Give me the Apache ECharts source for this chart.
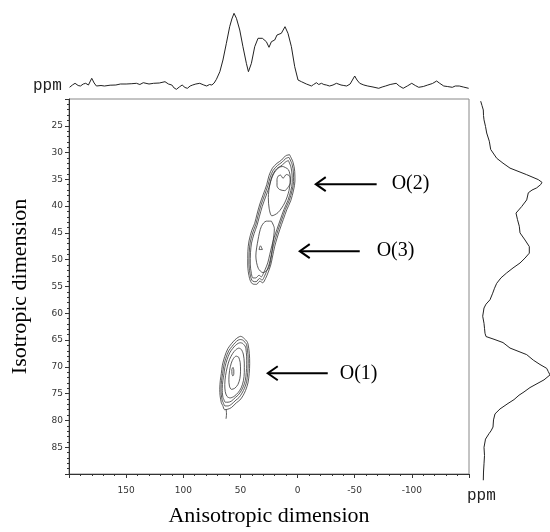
<!DOCTYPE html>
<html>
<head>
<meta charset="utf-8">
<title>MQMAS spectrum</title>
<script src="https://cdn.jsdelivr.net/npm/echarts@6/dist/echarts.min.js"></script>
<style>
  html, body { margin: 0; padding: 0; background: #fff; }
  #main { width: 550px; height: 532px; }
</style>
</head>
<body>
<div id="main"></div>
<script>
// top projection (anisotropic dimension), ppm and intensity
var topPpm = [199.5, 197, 194.7, 192, 190, 187.5, 185.4, 183, 180.1, 178, 176, 172, 169, 164, 159, 155, 150, 145, 141, 138,
  135, 130, 126, 121, 116, 113, 110, 108, 106, 103.5, 101, 98.5, 96.4, 94, 91.8, 89, 85.6, 82, 79.5, 77,
  75, 73, 71, 68, 65.3, 62.3, 59.4, 57.5, 55.6, 53.5, 50.6, 47.8, 44.8, 43, 40.4, 37.5, 34.6, 30.8, 27.3, 25,
  22.9, 20, 18, 14.2, 11, 8.4, 5.4, 2.5, -0.4, -3.4, -5, -7.7, -10, -12.1, -14, -16.5, -18.5, -20.9, -23, -25.2,
  -28, -31, -34, -38, -40.5, -43, -46, -48, -50, -52, -54.4, -58, -61.4, -66, -71, -74, -77, -81, -86.3, -89,
  -92.4, -96, -99.9, -103, -106, -110, -113.9, -118, -121.7, -124, -127.9, -131, -135.4, -138, -141.5, -145, -149.7];
var topInt = [2.7, 5, 6.7, 4.5, 4, 6, 6.7, 5, 11.7, 7, 4, 4.5, 4, 4.8, 5, 6, 6, 6.3, 6.7, 5.5,
  7.3, 6, 6.7, 7, 8.3, 6, 5, 2, 0.7, 3, 5, 2.5, 1.7, 4, 5, 6, 6.7, 5, 4, 5.5,
  5, 7, 10.7, 18.3, 30, 46.7, 63.3, 71, 76.7, 71.7, 60, 43.3, 26.7, 18.3, 26.7, 43.3, 51.7, 51.7, 48.3, 42.7,
  48.3, 50, 55, 56.7, 63.3, 56.7, 43.3, 23.3, 10, 8.3, 7, 6, 5, 4, 5.5, 7.3, 5.5, 6.7, 5.5, 5,
  4, 5, 6.7, 5, 4.5, 4, 6, 10, 14, 10, 6.7, 5, 4, 3, 1.7, 3, 4, 5.5, 6.7, 4,
  1.7, 4, 6.7, 4.5, 2.7, 3.5, 5, 6.5, 9, 7, 4, 3.5, 2.7, 4, 4, 3, 1.7];

// right projection (isotropic dimension), ppm and intensity
var rightPpm = [20.4, 21.2, 22, 23, 23.8, 25, 26.2, 27.7, 29.2, 30.8, 31.7, 32.6, 33.8, 34.7, 35.2, 35.6, 36.2, 36.6, 37.1, 38.4,
  39.6, 40.8, 41.1, 42, 43.2, 44.4, 45.7, 46.9, 48.1, 49, 49.9, 50.8, 51.7, 52.6, 53.6, 54.5, 55.4, 56.6, 57.4, 58.1,
  59.6, 60.9, 61.8, 62.7, 63.3, 63.8, 64.4, 65.4, 66.6, 67.6, 68.4, 69.1, 69.7, 70.3, 71.2, 72, 72.6, 73.4, 74, 74.8,
  75.5, 76.5, 77.4, 78.5, 79.8, 80.5, 81, 82, 83.5, 85, 86.5, 88, 89.5];
var rightInt = [8.7, 10, 11.3, 11.5, 12, 13.5, 14.7, 17.3, 18.7, 24.7, 31, 38, 54.7, 66.3, 70, 68.7, 64.7, 60, 56.3, 54.7,
  49.7, 44, 43, 45.5, 47.3, 48, 53, 57.3, 57.3, 53, 48, 41, 34.7, 29, 24.7, 22.5, 20.7, 18, 14, 12,
  10.7, 12, 12.5, 13, 14, 22, 31, 38, 54.7, 61.3, 68, 74.7, 76.3, 78, 72, 64, 58, 52, 47, 42,
  36, 28, 23, 21.5, 21, 19, 17, 13.5, 12, 12.5, 12, 11.5, 11.3];

// contour rings, [anisotropic ppm, isotropic ppm]
var o23Ring1 = [[7, 30.4], [4, 31.8], [2.5, 33.5], [2.3, 35.3], [3.5, 37], [6, 39], [9.5, 40.7], [12.5, 42.5], [15.6, 44.4], [18, 46],
  [20, 47.5], [22, 49.5], [23.5, 51], [26, 52.5], [28, 53.5], [30.5, 54.3], [33, 54], [36, 54.6], [39.5, 54.5], [42, 53.5],
  [43.6, 51], [43.5, 48.5], [42.5, 46.5], [40, 44.5], [37.5, 43.2], [35.5, 41.5], [33, 39.6], [30, 37.8], [27, 36], [25, 34.3],
  [22, 32.9], [18, 32], [14, 31.4], [10.5, 30.6], [7, 30.4]];
var o23Ring2 = [[7.5, 30.9], [4.8, 32.2], [3.6, 33.8], [3.5, 35.4], [4.7, 37], [7.2, 38.9], [10.7, 40.6], [13.7, 42.4], [16.8, 44.3], [19.2, 45.9],
  [21.2, 47.4], [23.2, 49.3], [24.8, 50.8], [27.2, 52.2], [29, 53.1], [31, 53.8], [33.3, 53.5], [36.3, 54.1], [39.3, 54], [41.2, 53.1],
  [42.5, 50.9], [42.3, 48.6], [41.4, 46.7], [39, 44.8], [36.5, 43.4], [34.5, 41.7], [32, 39.8], [29, 38], [26, 36.2], [24, 34.6],
  [21.3, 33.3], [17.5, 32.4], [13.6, 31.8], [10.3, 31.1], [7.5, 30.9]];
var o23Ring3 = [[8, 31.5], [5.8, 32.7], [4.8, 34.2], [4.7, 35.6], [5.9, 37.1], [8.4, 38.9], [11.9, 40.6], [14.9, 42.4], [18, 44.3], [20.4, 45.8],
  [22.4, 47.3], [24.4, 49.1], [26.1, 50.6], [28.3, 51.8], [30, 52.6], [31.7, 53.2], [33.7, 52.9], [36.6, 53.4], [39.1, 53.4], [40.4, 52.6],
  [41.4, 50.8], [41.2, 48.7], [40.3, 46.9], [38, 45.1], [35.5, 43.6], [33.5, 42], [31, 40.1], [28, 38.3], [25, 36.5], [23, 35],
  [20.5, 33.8], [17, 32.9], [13.3, 32.3], [10.2, 31.7], [8, 31.5]];
var o2Inner = [[12.7, 32.6], [8, 33.2], [6.3, 34.9], [7.5, 37.1], [11.3, 39.4], [17.1, 41.2], [22.5, 41.8], [24.8, 40.5], [25.6, 38.4],
  [24.2, 35.9], [21.5, 34], [17.1, 32.8], [12.7, 32.6]];
var o3Inner = [[22.9, 42.8], [20.3, 44.2], [21.6, 46.9], [23.2, 49.7], [25.7, 51.7], [30.3, 52.4], [34.4, 51.6], [36.5, 49.3],
  [34.6, 46.3], [31.7, 43.8], [27.3, 42.8], [22.9, 42.8]];
var o2Core = [[17.1, 34.4], [15, 34.2], [12.7, 34.8], [9.8, 34.1], [6.9, 34.4], [6.3, 35.6], [8.4, 36.5], [11.3, 37.1], [15.7, 36.9],
  [18, 36.2], [18, 35], [17.1, 34.4]];
var o3Core = [[33.7, 48.1], [32.5, 47.4], [30.8, 48.1], [33.7, 48.1]];
var o1Ring1 = [[47.8, 64.5], [44.5, 65.2], [43.4, 65.7], [42.2, 67.5], [41.9, 69.4], [42.3, 71.2], [43.4, 73], [45.5, 74.4], [47.8, 75.4],
  [50.5, 76.2], [53.5, 76.7], [57.9, 77.6], [61, 77.9], [63.8, 78], [65.5, 77.2], [66.7, 76.7], [67.8, 75.4], [68.1, 74.2],
  [67.6, 72.5], [66.7, 71.2], [65.8, 69.7], [63.8, 68.1], [61, 66.6], [57.9, 65.7], [55, 65], [52.1, 64.5], [49.8, 64.3], [47.8, 64.5]];
var o1Ring2 = [[48, 65], [45.2, 65.6], [44.4, 66.1], [43.4, 67.7], [43.2, 69.4], [43.6, 71.1], [44.6, 72.8], [46.5, 74], [48.6, 74.9],
  [51.1, 75.7], [53.9, 76.2], [58, 77], [61, 77.3], [63.5, 77.3], [65, 76.7], [66, 76.2], [66.8, 75.1], [67, 74.1],
  [66.5, 72.5], [65.6, 71.3], [64.7, 69.9], [62.8, 68.4], [60.2, 67], [57.4, 66.2], [54.7, 65.5], [52, 65], [49.8, 64.9], [48, 65]];
var o1Ring3 = [[48.2, 65.6], [46, 66.1], [45.2, 66.6], [44.6, 68], [44.5, 69.5], [44.9, 71.1], [45.8, 72.6], [47.5, 73.7], [49.4, 74.5],
  [51.7, 75.2], [54.3, 75.7], [58, 76.4], [60.8, 76.6], [63.2, 76.6], [64.5, 76.1], [65.3, 75.7], [65.8, 74.8], [65.9, 74],
  [65.4, 72.6], [64.5, 71.5], [63.6, 70.1], [61.8, 68.7], [59.4, 67.4], [56.9, 66.6], [54.4, 66], [51.9, 65.6], [49.9, 65.5], [48.2, 65.6]];
var o1Ring4 = [[49, 66.8], [47.5, 67.6], [46.6, 69.3], [46.6, 71], [47.4, 72.6], [49.3, 73.9], [52, 74.8], [55.5, 75.5], [59, 75.8],
  [61.8, 75.5], [63.3, 74.6], [63.7, 73.3], [63, 71.6], [61.5, 70], [59.5, 68.6], [56.8, 67.5], [54, 66.8], [51.3, 66.5], [49, 66.8]];
var o1Ring5 = [[51.5, 68.2], [50.2, 69.2], [49.9, 70.8], [50.5, 72.2], [52.2, 73.3], [55, 74], [57.8, 74.2], [59.6, 73.6], [60.1, 72.3],
  [59.5, 70.7], [58, 69.3], [56, 68.4], [53.7, 68], [51.5, 68.2]];
var o1Core = [[56.5, 70.1], [55.8, 70.6], [55.8, 71.3], [56.6, 71.7], [57.4, 71.3], [57.5, 70.5], [56.5, 70.1]];
var o1Stem = [[62.5, 77.9], [62.2, 78.8], [62.6, 79.7]];

var contours = [o23Ring1, o23Ring2, o23Ring3, o2Inner, o3Inner, o2Core, o3Core,
  o1Ring1, o1Ring2, o1Ring3, o1Ring4, o1Ring5, o1Core, o1Stem];

// site labels and arrows
var siteLabels = ['O(2)', 'O(3)', 'O(1)'];
var arrowTail = [-69.2, -54.4, -26.4];
var arrowTip = [-15.9, -1.9, 26.1];
var arrowIso = [35.9, 48.4, 71.2];
var labelAniso = [-82.3, -69.2, -36.9];

function zip(a, b) {
  return a.map(function (v, i) { return [v, b[i]]; });
}

var myChart = echarts.init(document.getElementById('main'));

var axisColor = '#333';
var tickFont = 'DejaVu Sans';

var series = [];
contours.forEach(function (ring) {
  series.push({
    type: 'line',
    xAxisIndex: 0,
    yAxisIndex: 0,
    data: ring,
    showSymbol: false,
    smooth: 0.3,
    silent: true,
    lineStyle: { color: '#333', width: 0.8 }
  });
});

series.push({
  type: 'line',
  xAxisIndex: 1,
  yAxisIndex: 1,
  data: zip(topPpm, topInt),
  showSymbol: false,
  silent: true,
  lineStyle: { color: '#222', width: 1 }
});

series.push({
  type: 'line',
  xAxisIndex: 2,
  yAxisIndex: 2,
  data: zip(rightInt, rightPpm),
  showSymbol: false,
  silent: true,
  clip: false,
  lineStyle: { color: '#222', width: 1 }
});

series.push({
  type: 'custom',
  xAxisIndex: 0,
  yAxisIndex: 0,
  silent: true,
  clip: false,
  data: arrowTail.map(function (t, i) { return [t, arrowTip[i], arrowIso[i], labelAniso[i]]; }),
  renderItem: function (params, api) {
    var tail = api.coord([api.value(0), api.value(2)]);
    var tip = api.coord([api.value(1), api.value(2)]);
    var lab = api.coord([api.value(3), api.value(2)]);
    return {
      type: 'group',
      children: [
        { type: 'line', shape: { x1: tail[0], y1: tail[1], x2: tip[0] + 1, y2: tip[1] },
          style: { stroke: '#000', lineWidth: 2 } },
        { type: 'polyline', shape: { points: [[tip[0] + 10, tip[1] - 7], [tip[0], tip[1]], [tip[0] + 10, tip[1] + 7]] },
          style: { stroke: '#000', lineWidth: 2, fill: null } },
        { type: 'text', x: lab[0], y: lab[1],
          style: { text: siteLabels[params.dataIndex], fill: '#000', font: '20px "Liberation Serif"', verticalAlign: 'middle' } }
      ]
    };
  }
});

var option = {
  animation: false,
  backgroundColor: '#fff',
  grid: [
    { left: 69, top: 99, width: 400, height: 384, show: true, borderColor: '#888', borderWidth: 1 },
    { left: 69, top: 0, width: 400, height: 90 },
    { left: 472, top: 99, width: 78, height: 384 }
  ],
  xAxis: [
    {
      type: 'value', gridIndex: 0, min: -150, max: 200, interval: 50, inverse: true,
      name: 'Anisotropic dimension', nameLocation: 'middle', nameGap: 31,
      nameTextStyle: { fontFamily: 'Liberation Serif', fontSize: 22, color: '#000' },
      axisLine: { onZero: false, lineStyle: { color: axisColor } },
      axisTick: { length: 4, lineStyle: { color: axisColor } },
      minorTick: { show: true, splitNumber: 5, length: 2, lineStyle: { color: axisColor } },
      splitLine: { show: false },
      axisLabel: { showMinLabel: false, showMaxLabel: false, fontSize: 9, fontFamily: tickFont, color: '#333', margin: 12 }
    },
    { type: 'value', gridIndex: 1, min: -150, max: 200, inverse: true, show: false },
    { type: 'value', gridIndex: 2, min: 0, max: 78, show: false }
  ],
  yAxis: [
    {
      type: 'value', gridIndex: 0, min: 20, max: 90, interval: 5, inverse: true,
      name: 'Isotropic dimension', nameLocation: 'middle', nameGap: 38,
      nameTextStyle: { fontFamily: 'Liberation Serif', fontSize: 22, color: '#000' },
      axisLine: { onZero: false, lineStyle: { color: axisColor } },
      axisTick: { length: 4, lineStyle: { color: axisColor } },
      minorTick: { show: true, splitNumber: 5, length: 2, lineStyle: { color: axisColor } },
      splitLine: { show: false },
      axisLabel: { showMinLabel: false, showMaxLabel: false, fontSize: 9, fontFamily: tickFont, color: '#333', margin: 6 }
    },
    { type: 'value', gridIndex: 1, min: 0, max: 90, show: false },
    { type: 'value', gridIndex: 2, min: 20, max: 90, inverse: true, show: false }
  ],
  graphic: [
    { type: 'text', left: 33, top: 78, style: { text: 'ppm', font: '16px "Liberation Mono"', fill: '#222' } },
    { type: 'text', left: 467, top: 488, style: { text: 'ppm', font: '16px "Liberation Mono"', fill: '#222' } }
  ],
  series: series
};

myChart.setOption(option);
</script>
</body>
</html>
